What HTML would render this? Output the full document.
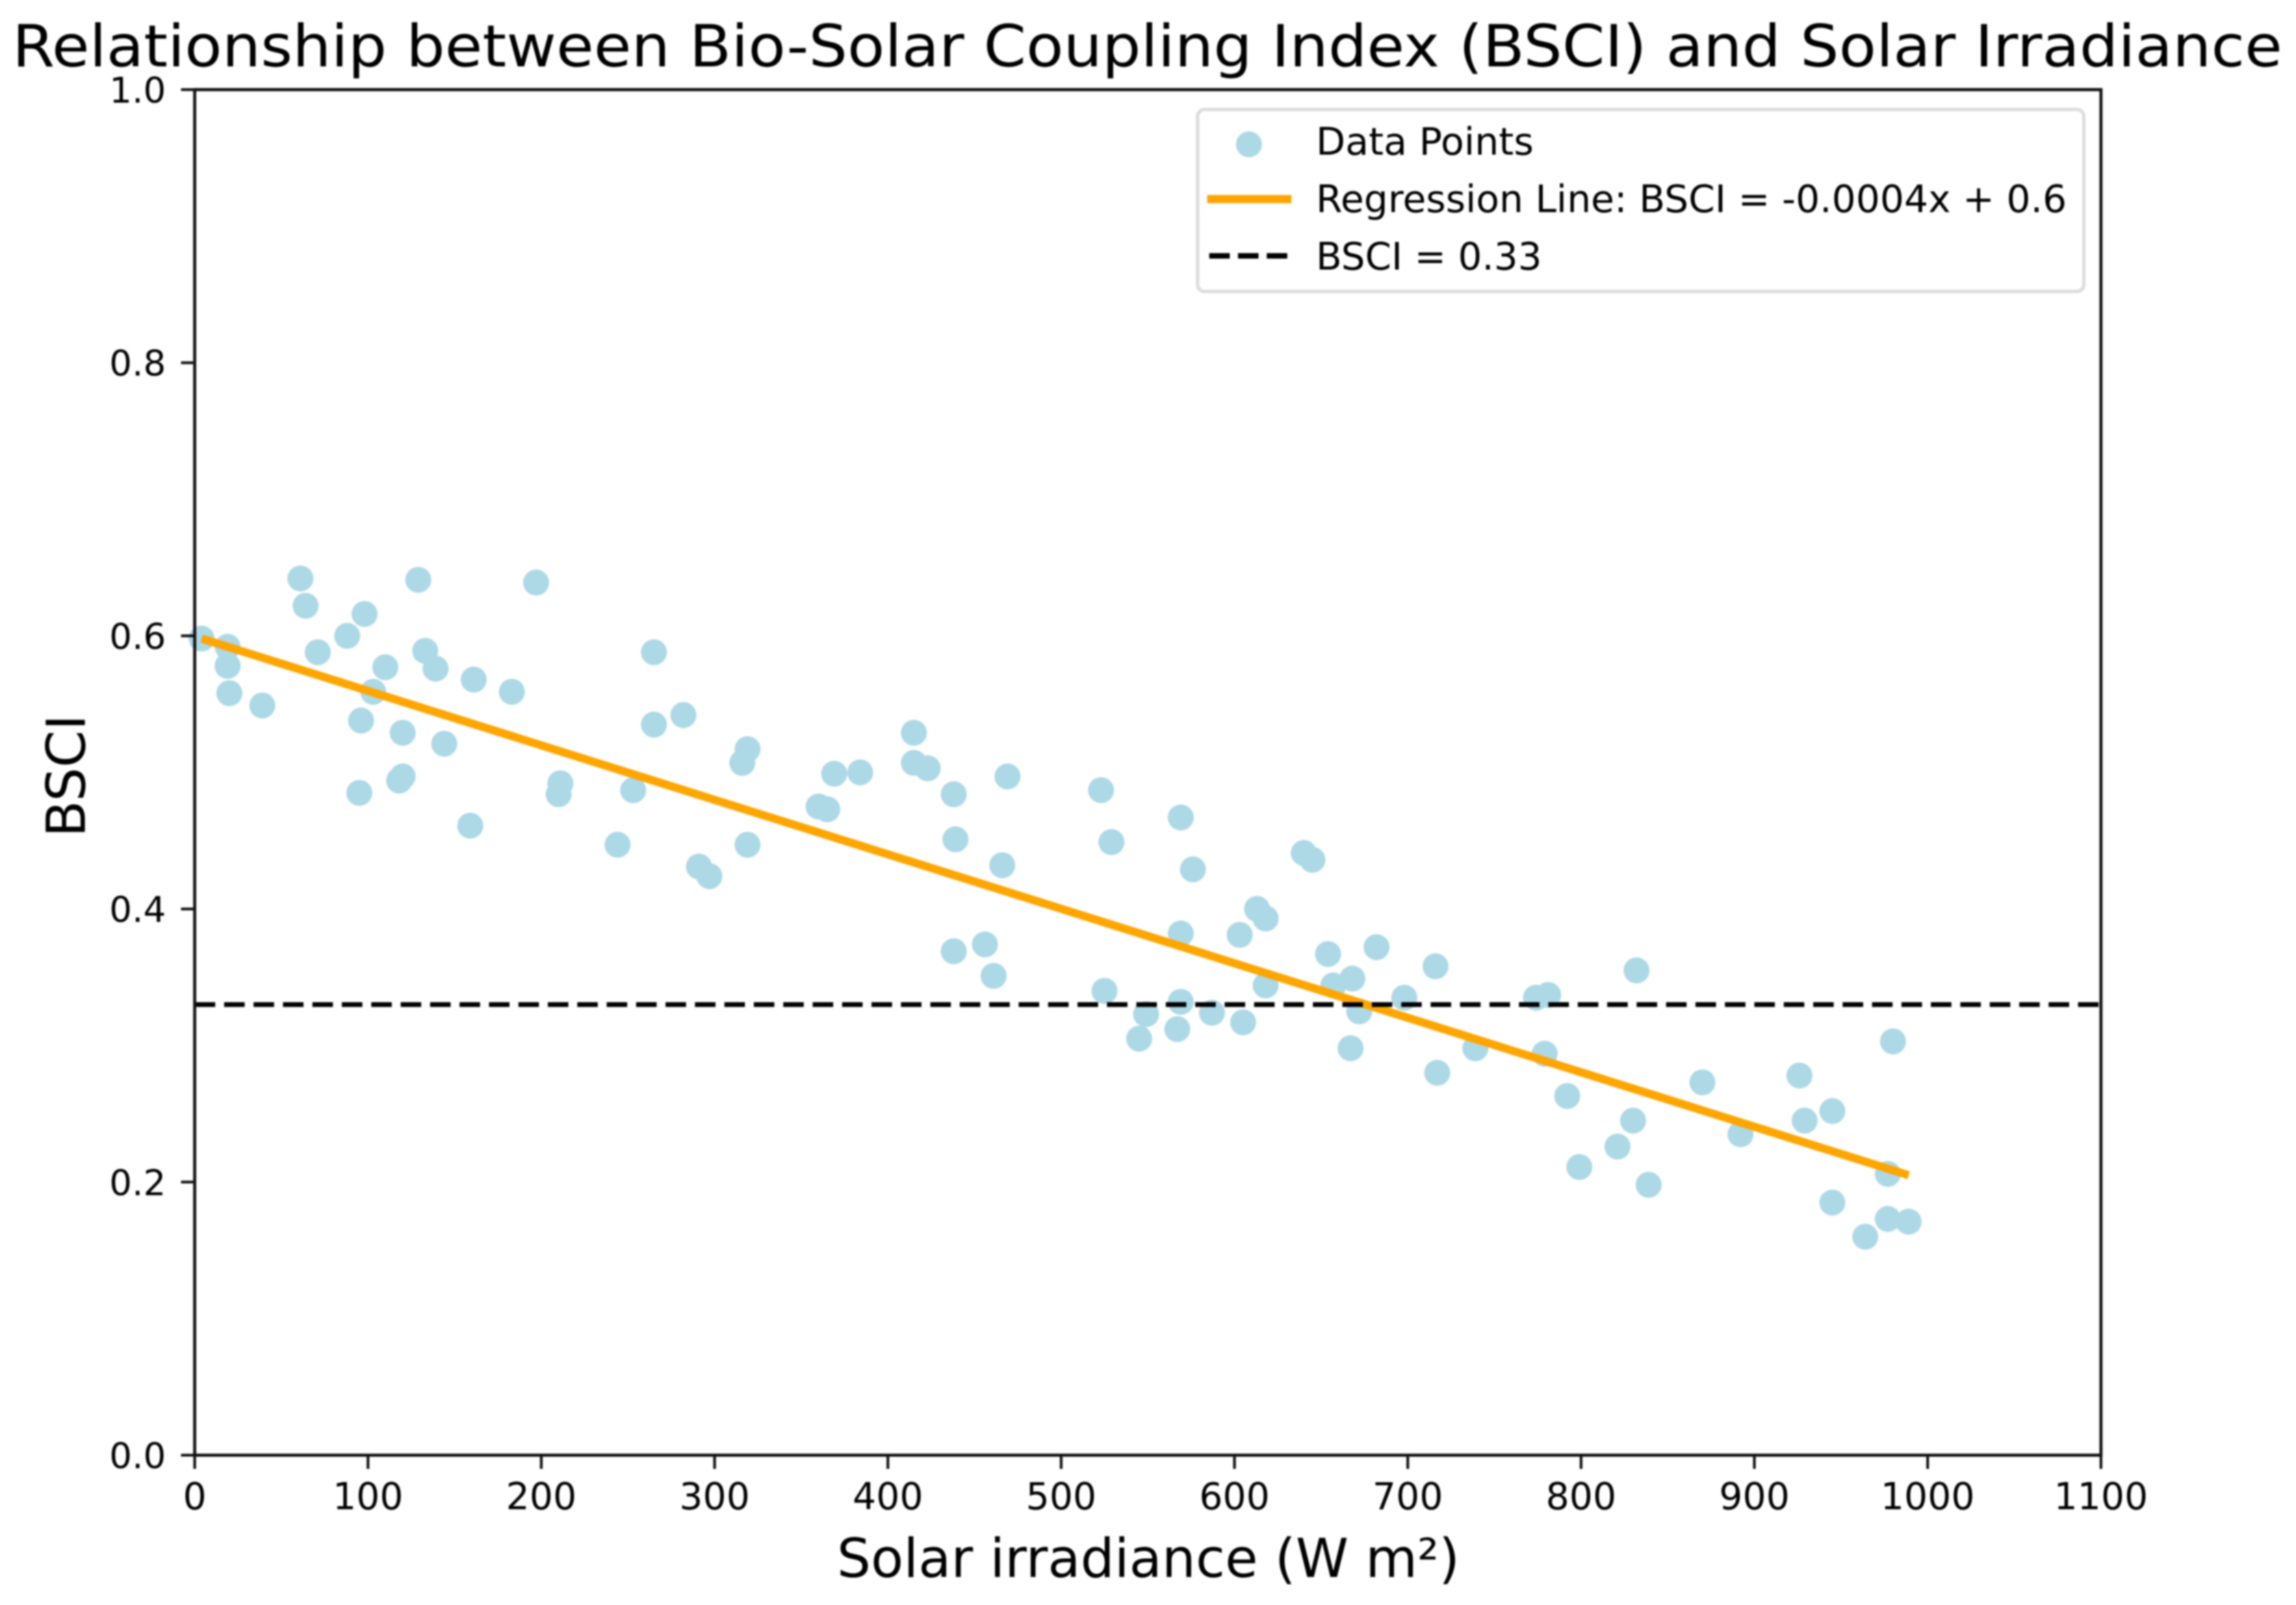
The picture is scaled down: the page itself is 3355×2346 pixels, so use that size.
<!DOCTYPE html>
<html>
<head>
<meta charset="utf-8">
<title>BSCI vs Solar Irradiance</title>
<style>
html,body{margin:0;padding:0;background:#fff;width:3355px;height:2346px;overflow:hidden}
svg{display:block;filter:blur(1.2px)}
text{font-family:"DejaVu Sans","Liberation Sans",sans-serif;fill:#000}
</style>
</head>
<body>
<svg id="chart" xmlns="http://www.w3.org/2000/svg" width="3355" height="2346" viewBox="0 0 3355 2346">
  <rect x="0" y="0" width="3355" height="2346" fill="#fff"/>
  <text x="18" y="97" font-size="85" textLength="3317" lengthAdjust="spacingAndGlyphs">Relationship between Bio-Solar Coupling Index (BSCI) and Solar Irradiance</text>
  <g id="points"></g>
  <g id="lines"></g>
  <g id="axes"></g>
  <text x="1678" y="2305" font-size="78" text-anchor="middle">Solar irradiance (W m²)</text>
  <text transform="translate(124 1134) rotate(-90)" font-size="78" text-anchor="middle">BSCI</text>
  <g>
    <rect x="1750" y="160" width="1295" height="266" rx="10" ry="10" fill="#fff" fill-opacity="0.8" stroke="#dcdcdc" stroke-width="5"/>
    <circle cx="1825" cy="211" r="19" fill="#add8e6"/>
    <text x="1923" y="226" font-size="55" textLength="318" lengthAdjust="spacingAndGlyphs">Data Points</text>
    <line x1="1764" y1="291" x2="1887" y2="291" stroke="#ffa500" stroke-width="12"/>
    <text x="1923" y="310" font-size="55" textLength="1097" lengthAdjust="spacingAndGlyphs">Regression Line: BSCI = -0.0004x + 0.6</text>
    <line x1="1767" y1="374" x2="1881" y2="374" stroke="#000" stroke-width="8" stroke-dasharray="30 12"/>
    <text x="1923" y="394" font-size="55" textLength="330" lengthAdjust="spacingAndGlyphs">BSCI = 0.33</text>
  </g>
</svg>
<script>
const pointX = [4,19,19,20,39,61,64,71,88,98,103,96,95,110,120,120,118,129,133,139,144,161,159,183,197,211,210,244,253,265,265,282,291,297,316,319,319,360,365,369,384,415,415,423,438,439,438,456,461,466,469,523,529,525,545,549,569,576,569,569,567,587,603,605,613,618,618,640,645,654,657,668,672,667,682,698,716,717,739,774,781,779,792,799,821,830,832,839,870,892,926,929,945,945,964,977,977,989,980];
const pointY = [0.598,0.592,0.578,0.558,0.549,0.642,0.622,0.588,0.600,0.616,0.559,0.538,0.485,0.577,0.529,0.497,0.494,0.641,0.589,0.576,0.521,0.568,0.461,0.559,0.639,0.492,0.484,0.447,0.487,0.588,0.535,0.542,0.431,0.424,0.507,0.517,0.447,0.475,0.473,0.499,0.500,0.529,0.507,0.503,0.484,0.451,0.369,0.374,0.351,0.432,0.497,0.487,0.449,0.340,0.305,0.323,0.467,0.429,0.382,0.332,0.312,0.324,0.381,0.317,0.400,0.393,0.344,0.441,0.436,0.367,0.344,0.349,0.325,0.298,0.372,0.335,0.358,0.280,0.298,0.335,0.337,0.294,0.263,0.211,0.226,0.245,0.355,0.198,0.273,0.235,0.278,0.245,0.252,0.185,0.160,0.206,0.173,0.171,0.303];
const regressionX = [4,989];
const regressionY = [0.598,0.205];
const thresholdX = [0,1100];
const thresholdY = [0.33,0.33];
const xTicks = [0,100,200,300,400,500,600,700,800,900,1000,1100];
const yTicks = [0,0.2,0.4,0.6,0.8,1];
const yTickLabels = ['0.0','0.2','0.4','0.6','0.8','1.0'];

const NS = 'http://www.w3.org/2000/svg';
const plotLeft = 284.5, plotRight = 3070, plotTop = 131, plotBottom = 2127;
const xMax = 1100, yMax = 1;
function sx(v){ return plotLeft + (v / xMax) * (plotRight - plotLeft); }
function sy(v){ return plotBottom - (v / yMax) * (plotBottom - plotTop); }
function make(tag, attrs, parent){
  const el = document.createElementNS(NS, tag);
  for (const k in attrs) el.setAttribute(k, attrs[k]);
  parent.appendChild(el);
  return el;
}
const gPoints = document.getElementById('points');
const gLines = document.getElementById('lines');
const gAxes = document.getElementById('axes');

pointX.forEach(function(x, i){
  const el = make('circle', {cx: sx(x), cy: sy(pointY[i]), r: 19, fill: '#add8e6'}, gPoints);
  
  
});

const reg = make('line', {x1: sx(regressionX[0]), y1: sy(regressionY[0]), x2: sx(regressionX[1]), y2: sy(regressionY[1]), stroke: '#ffa500', 'stroke-width': 12}, gLines);



const thr = make('line', {x1: sx(thresholdX[0]), y1: sy(thresholdY[0]), x2: sx(thresholdX[1]), y2: sy(thresholdY[1]), stroke: '#000', 'stroke-width': 7, 'stroke-dasharray': '30 13'}, gLines);



const frame = make('rect', {x: plotLeft, y: plotTop, width: plotRight - plotLeft, height: plotBottom - plotTop, fill: 'none', stroke: '#111', 'stroke-width': 4.5}, gAxes);



xTicks.forEach(function(t){
  const tick = make('line', {x1: sx(t), x2: sx(t), y1: plotBottom, y2: plotBottom + 20, stroke: '#111', 'stroke-width': 4}, gAxes);
  
  
  const label = make('text', {x: sx(t), y: plotBottom + 79, 'font-size': 54, 'text-anchor': 'middle'}, gAxes);
  
  
  label.textContent = String(t);
});

yTicks.forEach(function(t, i){
  const tick = make('line', {x1: plotLeft - 20, x2: plotLeft, y1: sy(t), y2: sy(t), stroke: '#111', 'stroke-width': 4}, gAxes);
  
  
  const label = make('text', {x: plotLeft - 42, y: sy(t) + 19, 'font-size': 52, 'text-anchor': 'end'}, gAxes);
  
  
  label.textContent = yTickLabels[i];
});
</script>
</body>
</html>
